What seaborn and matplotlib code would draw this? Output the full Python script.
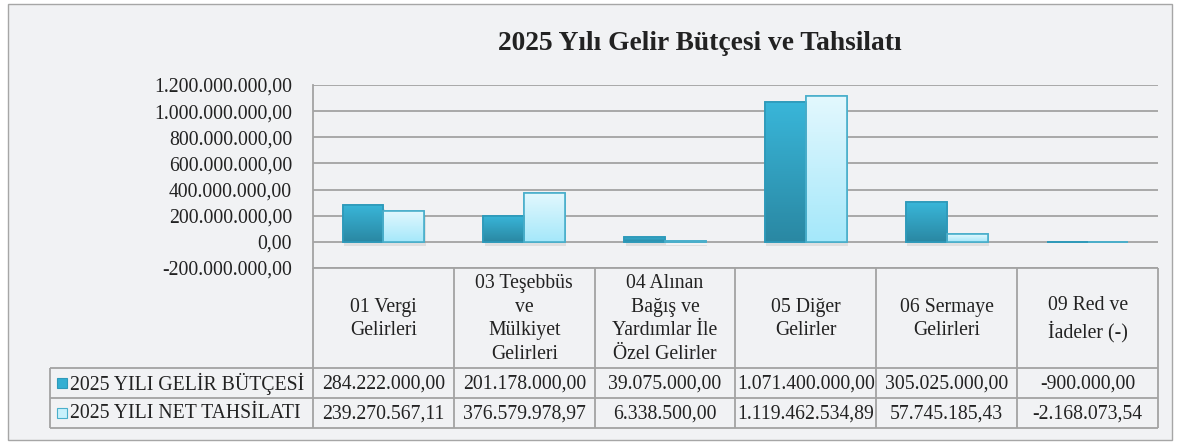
import numpy as np
import pandas as pd
import matplotlib
matplotlib.use("Agg")
import matplotlib.pyplot as plt
import matplotlib.patheffects as pe
import matplotlib.transforms as mtransforms
from matplotlib.colors import LinearSegmentedColormap
from matplotlib.patches import Rectangle
import seaborn as sns

# ---------------- data ----------------
kategoriler = [
    "01 Vergi\nGelirleri",
    "03 Teşebbüs\nve\nMülkiyet\nGelirleri",
    "04 Alınan\nBağış ve\nYardımlar İle\nÖzel Gelirler",
    "05 Diğer\nGelirler",
    "06 Sermaye\nGelirleri",
    "09 Red ve\nİadeler (-)",
]
seriler = ["2025 YILI GELİR BÜTÇESİ", "2025 YILI NET TAHSİLATI"]
butce = [284222000.00, 201178000.00, 39075000.00, 1071400000.00, 305025000.00, -900000.00]
tahsilat = [239270567.11, 376579978.97, 6338500.00, 1119462534.89, 57745185.43, -2168073.54]
y_ticks = [-200000000, 0, 200000000, 400000000, 600000000, 800000000, 1000000000, 1200000000]
baslik = "2025 Yılı Gelir Bütçesi ve Tahsilatı"


def tr_format(v):
    s = f"{v:,.2f}"
    return s.replace(",", "X").replace(".", ",").replace("X", ".")


df = pd.DataFrame({
    "kategori": kategoriler * 2,
    "seri": [seriler[0]] * len(kategoriler) + [seriler[1]] * len(kategoriler),
    "deger": butce + tahsilat,
})

# ---------------- style ----------------
sns.set_theme(style="white")
plt.rcParams["font.family"] = ["Liberation Serif", "DejaVu Serif"]

BG = "#F1F2F4"
GRID = "#A3A3A3"
TXT = "#222222"
DARK = "#34AFD2"
LIGHT = "#C8F1FC"
DARK_GRAD = ("#39B6D9", "#2A88A3")
LIGHT_GRAD = ("#E3F8FE", "#A5E8FA")
DARK_EDGE = "#2E9ABA"
LIGHT_EDGE = "#4AAFCB"
FS = 14.2

W, H = 1178, 442
fig = plt.figure(figsize=(W / 100, H / 100), dpi=100)
fig.patch.set_facecolor("white")

# background / pixel-space axes
bg = fig.add_axes([0, 0, 1, 1])
bg.set_xlim(0, W)
bg.set_ylim(H, 0)
bg.axis("off")
bg.add_patch(Rectangle((8, 4), 1164, 436, facecolor=BG, edgecolor="#A6A6A6", lw=1.0))

# plot area
L, R, T, B = 313, 1158, 85, 268
ax = fig.add_axes([L / W, 1 - B / H, (R - L) / W, (B - T) / H])
ax.set_facecolor("none")

sns.barplot(data=df, x="kategori", y="deger", hue="seri", palette=[DARK, LIGHT],
            width=0.58, saturation=1, legend=False, ax=ax, linewidth=1.2)

n = len(kategoriler)
for i, p in enumerate(ax.patches):
    koyu = i < n
    p.set_edgecolor(DARK_EDGE if koyu else LIGHT_EDGE)
    p.set_path_effects([pe.SimplePatchShadow(offset=(1, -3), shadow_rgbFace="#8a8a8a", alpha=0.18),
                        pe.Normal()])
    x0, y0 = p.get_xy()
    w, h = p.get_width(), p.get_height()
    lo, hi = min(y0, y0 + h), max(y0, y0 + h)
    cmap = LinearSegmentedColormap.from_list("g", DARK_GRAD if koyu else LIGHT_GRAD)
    grad = np.linspace(0, 1, 64).reshape(-1, 1)
    im = ax.imshow(grad, extent=[x0, x0 + w, lo, hi], origin="upper", aspect="auto",
                   cmap=cmap, zorder=p.get_zorder() + 0.1)
    im.set_clip_path(p)
    # edge on top of gradient
    ax.add_patch(Rectangle((x0, y0), w, h, fill=False, edgecolor=p.get_edgecolor(),
                           lw=1.2, zorder=p.get_zorder() + 0.2))

ax.set_xlim(-0.5, n - 0.5)
ax.set_ylim(y_ticks[0], y_ticks[-1])
ax.set_yticks(y_ticks)
ax.set_yticklabels([tr_format(t) for t in y_ticks])
ax.set_xticks([])
ax.set_xlabel("")
ax.set_ylabel("")
ax.tick_params(axis="y", length=0, pad=15, labelsize=FS, labelcolor=TXT)
ax.yaxis.grid(True, color=GRID, lw=1.3)
ax.set_axisbelow(True)
for s in ["top", "right", "bottom"]:
    ax.spines[s].set_visible(False)
ax.spines["left"].set_color(GRID)
ax.spines["left"].set_linewidth(1.3)

# title
bg.text(700, 43, baslik, ha="center", va="center", fontsize=19.8, fontweight="bold", color=TXT)

# ---------------- data table ----------------
tr = mtransforms.blended_transform_factory(ax.transData, bg.transData)
lc = dict(color=GRID, lw=1.3, solid_capstyle="butt")
row_y = [368, 398, 428]
bg.plot([L, R], [B, B], **lc)
for yy in row_y:
    bg.plot([50, R], [yy, yy], **lc)
bg.plot([50, 50], [368, 428], **lc)
bg.plot([L, L], [B, 428], **lc)
for i in range(n):
    bg.plot([i + 0.5, i + 0.5], [B, 428], transform=tr, **lc)

for i, k in enumerate(kategoriler):
    bg.text(i, 319, k, transform=tr, ha="center", va="center", fontsize=FS,
            color=TXT, linespacing=1.33)
    bg.text(i, 384, tr_format(butce[i]), transform=tr, ha="center", va="center",
            fontsize=FS, color=TXT)
    bg.text(i, 414, tr_format(tahsilat[i]), transform=tr, ha="center", va="center",
            fontsize=FS, color=TXT)

# legend keys + row labels
bg.add_patch(Rectangle((57, 378), 10, 10, facecolor=DARK, edgecolor=DARK_EDGE, lw=0.8))
bg.add_patch(Rectangle((57, 408), 10, 10, facecolor=LIGHT, edgecolor=LIGHT_EDGE, lw=0.8))
bg.text(70, 384, seriler[0], ha="left", va="center", fontsize=FS, color=TXT)
bg.text(70, 414, seriler[1], ha="left", va="center", fontsize=FS, color=TXT)

fig.savefig("out.png", dpi=100, facecolor=fig.get_facecolor())
